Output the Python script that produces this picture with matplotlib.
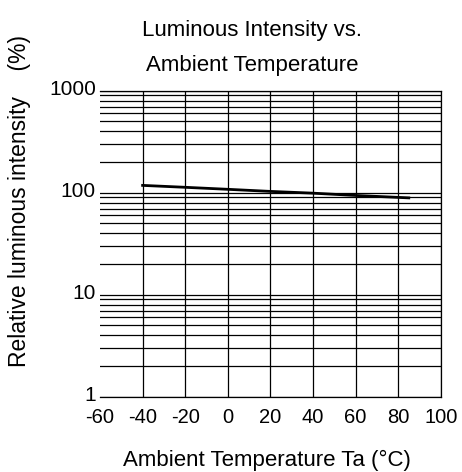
import numpy as np
import matplotlib.pyplot as plt
from matplotlib.ticker import FixedLocator, NullFormatter, LogLocator
from matplotlib.transforms import ScaledTranslation

plt.rcParams['font.family'] = ['Liberation Sans', 'DejaVu Sans']
plt.rcParams['axes.unicode_minus'] = False

# curve
temp_c = [-40, -20, 0, 20, 40, 60, 80, 85]
rel_intensity = [118, 113, 108, 103, 99, 94, 90, 89]

x_ticks = [-60, -40, -20, 0, 20, 40, 60, 80, 100]
y_ticks = [1, 10, 100, 1000]
y_tick_labels = ['1', '10', '100', '1000']

fig = plt.figure(figsize=(4.62, 4.72), dpi=100)
ax = fig.add_axes([0.2165, 0.1595, 0.7375, 0.6483])

ax.set_yscale('log')
ax.set_xlim(-60, 100)
ax.set_ylim(1, 1000)

ax.xaxis.set_major_locator(FixedLocator(x_ticks))
ax.yaxis.set_major_locator(FixedLocator(y_ticks))
ax.yaxis.set_minor_locator(LogLocator(base=10, subs=np.arange(2, 10)))
ax.yaxis.set_minor_formatter(NullFormatter())
ax.set_yticklabels(y_tick_labels)

ax.grid(True, which='major', axis='x', color='black', lw=0.9)
ax.grid(True, which='both', axis='y', color='black', lw=0.9)
ax.tick_params(which='both', length=0)
ax.tick_params(axis='x', pad=8, labelsize=14.5)
ax.tick_params(axis='y', pad=3, labelsize=15)

# no line on the left edge in the original
fig.canvas.draw()
ax.get_xgridlines()[0].set_visible(False)
for lab in ax.get_yticklabels():
    lab.set_transform(lab.get_transform() + ScaledTranslation(0, 3 / 100, fig.dpi_scale_trans))

for side in ['top', 'right', 'bottom']:
    ax.spines[side].set_linewidth(0.9)
ax.spines['left'].set_visible(False)

ax.plot(temp_c, rel_intensity, color='black', lw=2)

fig.text(0.545, 0.935, 'Luminous Intensity vs.', ha='center', va='center', fontsize=16)
fig.text(0.545, 0.862, 'Ambient Temperature', ha='center', va='center', fontsize=16)
fig.text(0.043, 0.574, 'Relative luminous intensity    (%)', rotation=90,
         ha='center', va='center', fontsize=16.5)
fig.text(0.578, 0.024, 'Ambient Temperature Ta (\u00b0C)', ha='center', va='center', fontsize=16)

fig.savefig('out.png', dpi=100)
